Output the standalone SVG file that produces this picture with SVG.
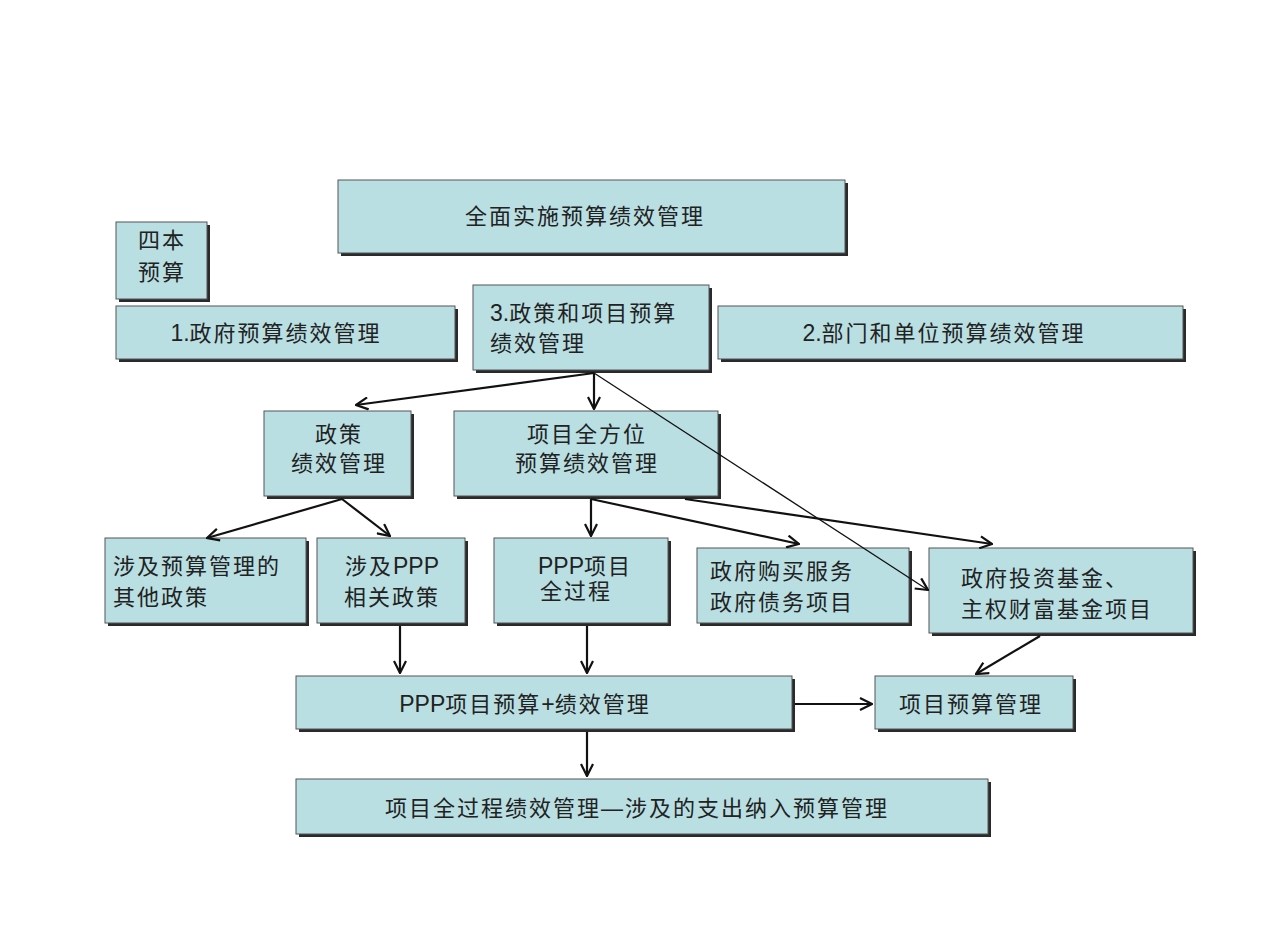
<svg xmlns="http://www.w3.org/2000/svg" width="1267" height="950" viewBox="0 0 1267 950">
<defs>
<marker id="ah" viewBox="0 0 14 14" refX="13" refY="7" markerWidth="14" markerHeight="14" markerUnits="userSpaceOnUse" orient="auto">
<polyline points="1,1 13,7 1,13" fill="none" stroke="#111" stroke-width="2.2"/>
</marker>
</defs>
<style>
.sh{fill:#2a2a2a}
.bx{fill:#b9dfe2;stroke:#555;stroke-width:1}
text{font-family:"Liberation Sans","Noto Sans CJK SC",sans-serif;font-size:22px;fill:#222;letter-spacing:2px}
.l{letter-spacing:0;font-size:23px}
.c{text-anchor:middle}
.ln{fill:none;stroke:#111;stroke-width:2.2}
.thin{fill:none;stroke:#111;stroke-width:1.3}
</style>
<rect width="1267" height="950" fill="#fff"/>
<g id="n-top"><rect class="sh" x="341" y="183" width="507" height="73"/><rect class="bx" x="338" y="180" width="507" height="73"/><text class="c" x="585" y="224">全面实施预算绩效管理</text></g>
<g id="n-four"><rect class="sh" x="119" y="225" width="91" height="77"/><rect class="bx" x="116" y="222" width="91" height="77"/><text x="138" y="248">四本</text><text x="138" y="280">预算</text></g>
<g id="n-gov"><rect class="sh" x="119" y="309" width="339" height="53"/><rect class="bx" x="116" y="306" width="339" height="53"/><text class="c" x="276" y="341"><tspan class="l">1.</tspan>政府预算绩效管理</text></g>
<g id="n-policyproj"><rect class="sh" x="476" y="288" width="236" height="85"/><rect class="bx" x="473" y="285" width="236" height="85"/><text x="490" y="321"><tspan class="l">3.</tspan>政策和项目预算</text><text x="490" y="351">绩效管理</text></g>
<g id="n-dept"><rect class="sh" x="721" y="309" width="465" height="53"/><rect class="bx" x="718" y="306" width="465" height="53"/><text class="c" x="944" y="341"><tspan class="l">2.</tspan>部门和单位预算绩效管理</text></g>
<g id="n-policy"><rect class="sh" x="267" y="414" width="147" height="85"/><rect class="bx" x="264" y="411" width="147" height="85"/><text class="c" x="339" y="442">政策</text><text class="c" x="339" y="471">绩效管理</text></g>
<g id="n-proj"><rect class="sh" x="457" y="414" width="264" height="85"/><rect class="bx" x="454" y="411" width="264" height="85"/><text class="c" x="587" y="442">项目全方位</text><text class="c" x="587" y="471">预算绩效管理</text></g>
<g id="n-other"><rect class="sh" x="108" y="541" width="201" height="85"/><rect class="bx" x="105" y="538" width="201" height="85"/><text x="113" y="574">涉及预算管理的</text><text x="113" y="605">其他政策</text></g>
<g id="n-pppol"><rect class="sh" x="320" y="541" width="148" height="85"/><rect class="bx" x="317" y="538" width="148" height="85"/><text class="c" x="392" y="574">涉及<tspan class="l">PPP</tspan></text><text class="c" x="392" y="605">相关政策</text></g>
<g id="n-pppproc"><rect class="sh" x="497" y="541" width="174" height="85"/><rect class="bx" x="494" y="538" width="174" height="85"/><text x="538" y="574"><tspan class="l">PPP</tspan>项目</text><text x="540" y="599">全过程</text></g>
<g id="n-buy"><rect class="sh" x="700" y="551" width="212" height="75"/><rect class="bx" x="697" y="548" width="212" height="75"/><text x="710" y="579">政府购买服务</text><text x="710" y="610">政府债务项目</text></g>
<g id="n-fund"><rect class="sh" x="932" y="551" width="264" height="85"/><rect class="bx" x="929" y="548" width="264" height="85"/><text x="961" y="586">政府投资基金、</text><text x="961" y="617">主权财富基金项目</text></g>
<g id="n-pppbud"><rect class="sh" x="299" y="679" width="496" height="53"/><rect class="bx" x="296" y="676" width="496" height="53"/><text class="c" x="525" y="712"><tspan class="l">PPP</tspan>项目预算<tspan class="l">+</tspan>绩效管理</text></g>
<g id="n-projbud"><rect class="sh" x="878" y="679" width="198" height="53"/><rect class="bx" x="875" y="676" width="198" height="53"/><text class="c" x="971" y="712">项目预算管理</text></g>
<g id="n-full"><rect class="sh" x="299" y="782" width="692" height="55"/><rect class="bx" x="296" y="779" width="692" height="55"/><text class="c" x="637" y="816">项目全过程绩效管理—涉及的支出纳入预算管理</text></g>
<g id="connectors">
<line class="ln" x1="594" y1="373" x2="356" y2="405" marker-end="url(#ah)"/>
<line class="ln" x1="594" y1="373" x2="594" y2="409" marker-end="url(#ah)"/>
<line class="thin" x1="594" y1="373" x2="928" y2="590" marker-end="url(#ah)"/>
<line class="ln" x1="342" y1="499" x2="207" y2="538" marker-end="url(#ah)"/>
<line class="ln" x1="342" y1="499" x2="390" y2="536" marker-end="url(#ah)"/>
<line class="ln" x1="591" y1="499" x2="591" y2="536" marker-end="url(#ah)"/>
<line class="ln" x1="591" y1="499" x2="799" y2="544" marker-end="url(#ah)"/>
<line class="ln" x1="685" y1="499" x2="992" y2="544" marker-end="url(#ah)"/>
<line class="ln" x1="400" y1="626" x2="400" y2="673" marker-end="url(#ah)"/>
<line class="ln" x1="587" y1="626" x2="587" y2="673" marker-end="url(#ah)"/>
<line class="ln" x1="1040" y1="636" x2="976" y2="674" marker-end="url(#ah)"/>
<line class="ln" x1="795" y1="704" x2="872" y2="704" marker-end="url(#ah)"/>
<line class="ln" x1="587" y1="732" x2="587" y2="776" marker-end="url(#ah)"/>
</g>
</svg>
